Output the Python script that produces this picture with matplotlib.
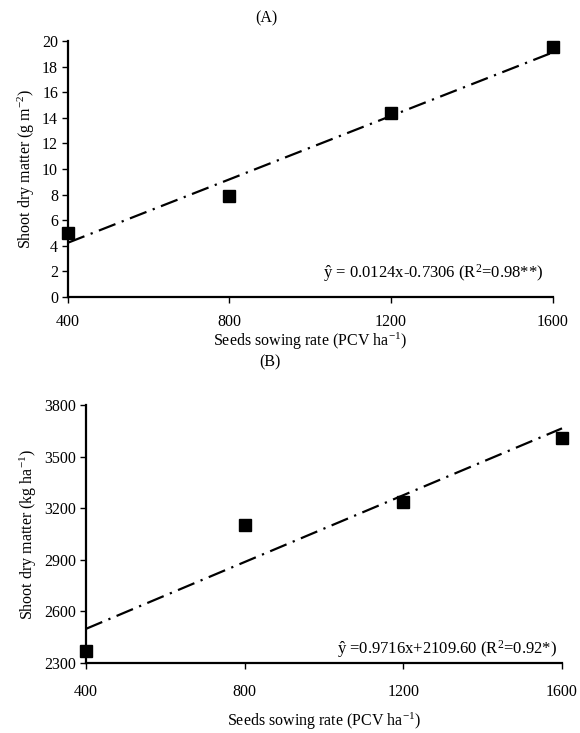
import matplotlib.pyplot as plt
import numpy as np

# -------------------------------
# data
# -------------------------------
rates = [400, 800, 1200, 1600]
shoot_g = [5.0, 7.9, 14.4, 19.5]
shoot_kg = [2370, 3100, 3235, 3610]

fit_a = (0.0124, -0.7306)
fit_b = (0.9716, 2109.60)

x_ticks = [400, 800, 1200, 1600]
y_ticks_a = list(range(0, 21, 2))
y_ticks_b = [2300, 2600, 2900, 3200, 3500, 3800]

plt.rcParams['font.family'] = ['Liberation Serif', 'DejaVu Serif']
plt.rcParams['mathtext.fontset'] = 'custom'
plt.rcParams['mathtext.rm'] = 'Liberation Serif'
plt.rcParams['mathtext.it'] = 'Liberation Serif:italic'
plt.rcParams['font.size'] = 11

fig = plt.figure(figsize=(5.8, 7.33), dpi=100)
ax_a = fig.add_axes([0.117, 0.595, 0.836, 0.349])
ax_b = fig.add_axes([0.148, 0.0955, 0.821, 0.352])


def style(ax, yticks, ylabel, eq, eq_xy, tpad, xpad):
    for s in ['top', 'right']:
        ax.spines[s].set_visible(False)
    for s in ['left', 'bottom']:
        ax.spines[s].set_linewidth(1.6)
    ax.set_xlim(400, 1600)
    ax.set_ylim(yticks[0], yticks[-1])
    ax.set_xticks(x_ticks)
    ax.set_yticks(yticks)
    ax.tick_params(axis='x', direction='out', length=4, width=1, pad=tpad, labelsize=11.5)
    ax.tick_params(axis='y', direction='out', length=4, width=1, pad=3, labelsize=11.5)
    ax.set_xlabel('Seeds sowing rate (PCV ha$^{\\mathregular{-1}}$)', fontsize=11.5, labelpad=xpad)
    ax.set_ylabel(ylabel, fontsize=11.5, labelpad=4)
    ax.text(eq_xy[0], eq_xy[1], eq, transform=ax.transAxes, fontsize=12, ha='right')


# -------------------------------
# (A)
# -------------------------------
xx = np.array([400, 1600])
ax_a.plot(xx, fit_a[0] * xx + fit_a[1], color='black', lw=1.6,
          dashes=(8, 3, 1, 3), clip_on=False)
ax_a.plot(rates, shoot_g, 's', color='black', ms=8, clip_on=False, zorder=5)
style(ax_a, y_ticks_a, 'Shoot dry matter (g m$^{\\mathregular{-2}}$)',
      'ŷ = 0.0124x-0.7306 (R$^{\\mathregular{2}}$=0.98**)', (0.98, 0.075), 8, 1)

# -------------------------------
# (B)
# -------------------------------
ax_b.plot(xx, fit_b[0] * xx + fit_b[1], color='black', lw=1.6,
          dashes=(8, 3, 1, 3), clip_on=False)
ax_b.plot(rates, shoot_kg, 's', color='black', ms=8, clip_on=False, zorder=5)
style(ax_b, y_ticks_b, 'Shoot dry matter (kg ha$^{\\mathregular{-1}}$)',
      'ŷ =0.9716x+2109.60 (R$^{\\mathregular{2}}$=0.92*)', (0.99, 0.035), 11, 8)

fig.text(0.46, 0.975, '(A)', ha='center', va='center', fontsize=11.5)
fig.text(0.466, 0.505, '(B)', ha='center', va='center', fontsize=11.5)

fig.savefig('out.png', dpi=100)
